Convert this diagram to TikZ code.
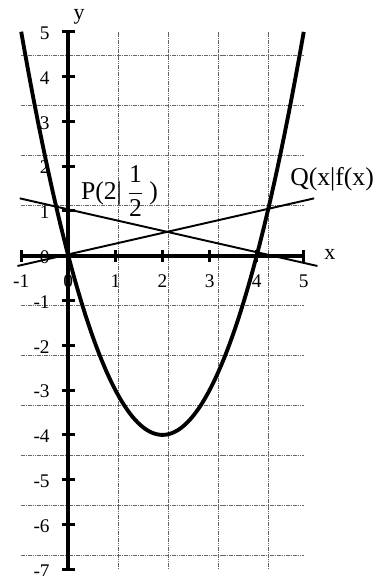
\documentclass[tikz,border=0pt]{standalone}
\usepackage{fontspec}
\setmainfont{Liberation Serif}
\begin{document}
\begin{tikzpicture}[x=0.942cm,y=0.896cm,
  gridline/.style={black!60,dash pattern=on 0.9pt off 0.4pt,line width=0.8pt},
  axisline/.style={line width=2.3pt},
  tickmark/.style={line width=1.8pt},
  curve/.style={line width=2.2pt},
  thinline/.style={line width=1.1pt},
  ticklabel/.style={inner sep=0pt,font=\fontsize{11}{12}\selectfont},
  axislabel/.style={inner sep=0pt,font=\fontsize{12.5}{14}\selectfont},
  bigLabel/.style={inner sep=0pt,font=\fontsize{14.6}{17}\selectfont}]
\useasboundingbox (-1.450,-7.150) rectangle (6.851,5.708);
% grid
\draw[gridline] (-1,-7) grid (5,5);
% tick labels
\foreach \v in {-1,0,...,5}
  \node[ticklabel] (xl\v) at (\v,-0.571) {\v};
\foreach \v in {-7,-6,...,5}
  \node[ticklabel,anchor=east] (yl\v) at (-0.389,\v-0.033) {\v};
% straight lines
\coordinate (a1) at (-1.08,-0.23);
\coordinate (a2) at (5.22,1.28);
\coordinate (b1) at (-1.03,1.28);
\coordinate (b2) at (5.29,-0.23);
\draw[thinline] (a1) -- (a2);
\draw[thinline] (b1) -- (b2);
% axes
\coordinate (xs) at (-1,0);
\coordinate (xe) at (5,0);
\coordinate (ys) at (0,-7);
\coordinate (ye) at (0,5);
\draw[axisline] (xs) -- (xe);
\draw[axisline] (ys) -- (ye);
\foreach \v in {-1,0,...,5}
  \draw[tickmark] (\v,-0.13) -- (\v,0.13);
\foreach \v in {-7,-6,...,5}
  \draw[tickmark] (-0.135,\v) -- (0.135,\v);
% parabola
\draw[curve,smooth,samples=120,domain=-1:5] plot (\x,{\x*\x-4*\x});
% labels
\node[axislabel] (xlab) at (5.553,0.022) {x};
\node[axislabel] (ylab) at (0.231,5.335) {y};
\node[bigLabel,anchor=base west] (plab) at (0.263,1.259)
  {P(2|\kern3pt$\displaystyle\frac{\mbox{1}}{\mbox{2}}$\kern3pt)};
\node[bigLabel,anchor=base west] (qlab) at (4.707,1.578) {Q(x|f(x)};
\end{tikzpicture}
\end{document}
